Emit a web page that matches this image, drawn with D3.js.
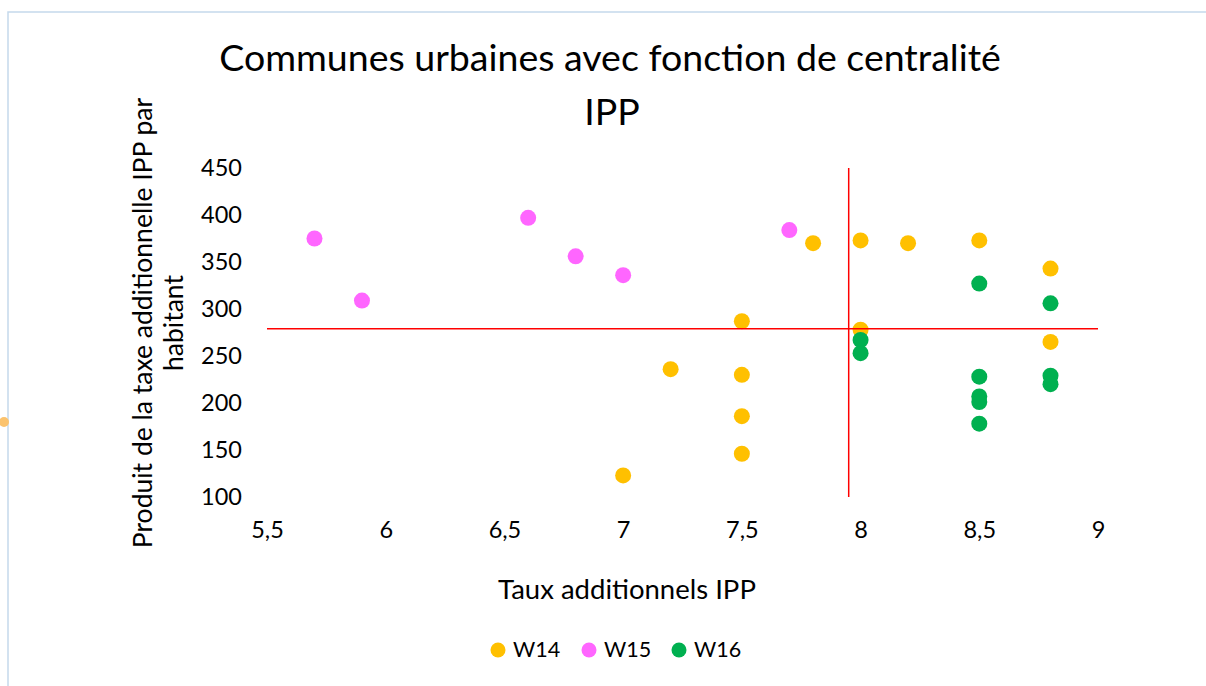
<!DOCTYPE html>
<html>
<head>
<meta charset="utf-8">
<script src="https://cdn.jsdelivr.net/npm/d3@7"></script>
<style>
  body { margin: 0; background: #fff; }
  text { font-family: Lato, "Open Sans", sans-serif; fill: #000; }
</style>
</head>
<body>
<div id="chart"></div>
<script>
// Data
const seriesNames = ["W14", "W15", "W16"];
const seriesColors = ["#FFC000", "#FF66FF", "#00B050"];

const w14X = [7.0, 7.2, 7.5, 7.5, 7.5, 7.5, 7.8, 8.0, 8.0, 8.2, 8.5, 8.8, 8.8];
const w14Y = [123, 236, 287, 230, 186, 146, 370, 373, 278, 370, 373, 343, 265];

const w15X = [5.7, 5.9, 6.6, 6.8, 7.0, 7.7];
const w15Y = [375, 309, 397, 356, 336, 384];

const w16X = [8.0, 8.0, 8.5, 8.5, 8.5, 8.5, 8.5, 8.8, 8.8, 8.8];
const w16Y = [267, 253, 327, 228, 207, 201, 178, 306, 229, 220];

// red reference lines
const refX = 7.95;
const refY = 279;

const xTicks = [5.5, 6, 6.5, 7, 7.5, 8, 8.5, 9];
const yTicks = [100, 150, 200, 250, 300, 350, 400, 450];

const W = 1206, H = 686;

const svg = d3.select("#chart").append("svg")
              .attr("width", W)
              .attr("height", H);

// chart frame (light blue border)
svg.append("path")
   .attr("d", `M8,${H} V12 H${W}`)
   .attr("fill", "none")
   .attr("stroke", "#C5D9EC")
   .attr("stroke-width", 1.5);

// stray handle on left edge
svg.append("circle")
   .attr("cx", 4).attr("cy", 422).attr("r", 5)
   .attr("fill", "#FBC36E");

const xScale = d3.scaleLinear().domain([5.5, 9]).range([267, 1098]);
const yScale = d3.scaleLinear().domain([100, 450]).range([497, 168]);

const fmt = d => String(d).replace(".", ",");

// Axes (no lines, labels only)
const xAxis = svg.append("g")
   .attr("transform", `translate(0,497)`)
   .call(d3.axisBottom(xScale).tickValues(xTicks).tickSize(0).tickPadding(24).tickFormat(fmt));
const yAxis = svg.append("g")
   .attr("transform", `translate(267,0)`)
   .call(d3.axisLeft(yScale).tickValues(yTicks).tickSize(0).tickPadding(25).tickFormat(fmt));
[xAxis, yAxis].forEach(a => {
    a.select(".domain").remove();
    a.selectAll("text")
     .style("font-family", "Lato, 'Open Sans', sans-serif")
     .style("font-size", "23.5px")
     .attr("fill", "#000");
});

// Points
const series = [
    { name: "W14", x: w14X, y: w14Y },
    { name: "W15", x: w15X, y: w15Y },
    { name: "W16", x: w16X, y: w16Y }
];

series.forEach((s, i) => {
    svg.append("g")
       .selectAll("circle")
       .data(s.x.map((v, j) => ({ x: v, y: s.y[j] })))
       .enter()
       .append("circle")
       .attr("cx", d => xScale(d.x))
       .attr("cy", d => yScale(d.y))
       .attr("r", 8)
       .attr("fill", seriesColors[i]);
});

// Red lines
svg.append("line")
   .attr("x1", xScale(5.5)).attr("x2", xScale(9))
   .attr("y1", yScale(refY)).attr("y2", yScale(refY))
   .attr("stroke", "#FF0000").attr("stroke-width", 1.5);
svg.append("line")
   .attr("x1", xScale(refX)).attr("x2", xScale(refX))
   .attr("y1", yScale(450)).attr("y2", yScale(100))
   .attr("stroke", "#FF0000").attr("stroke-width", 1.5);

// Title
svg.append("text")
   .attr("x", 610).attr("y", 71)
   .attr("text-anchor", "middle")
   .style("font-size", "37.5px")
   .text("Communes urbaines avec fonction de centralité");
svg.append("text")
   .attr("x", 612).attr("y", 125)
   .attr("text-anchor", "middle")
   .style("font-size", "37.5px")
   .text("IPP");

// Axis titles
svg.append("text")
   .attr("x", 627).attr("y", 599)
   .attr("text-anchor", "middle")
   .style("font-size", "27.5px")
   .text("Taux additionnels IPP");

svg.append("text")
   .attr("transform", "translate(152,323) rotate(-90)")
   .attr("text-anchor", "middle")
   .style("font-size", "26.5px")
   .text("Produit de la taxe additionnelle IPP par");
svg.append("text")
   .attr("transform", "translate(183,323) rotate(-90)")
   .attr("text-anchor", "middle")
   .style("font-size", "26.5px")
   .text("habitant");

// Legend
const legendX = [498, 589, 679];
const legend = svg.append("g");
seriesNames.forEach((n, i) => {
    legend.append("circle")
          .attr("cx", legendX[i]).attr("cy", 650).attr("r", 7.5)
          .attr("fill", seriesColors[i]);
    legend.append("text")
          .attr("x", legendX[i] + 15).attr("y", 657)
          .style("font-size", "21.5px")
          .text(n);
});
</script>
</body>
</html>
